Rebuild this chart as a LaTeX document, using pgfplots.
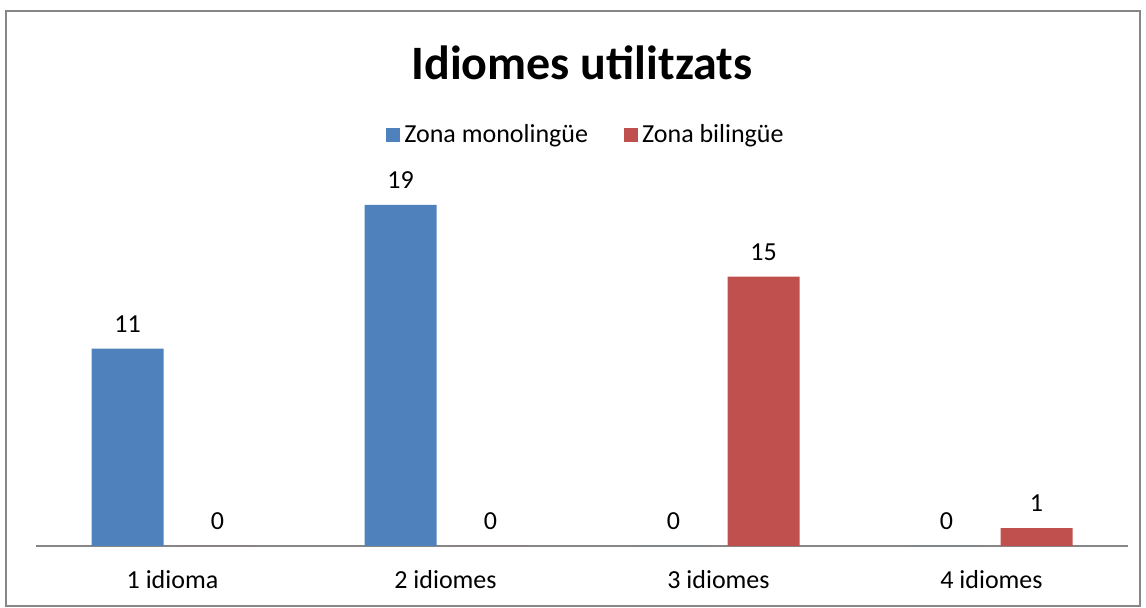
\documentclass[border=0pt]{standalone}
\usepackage{pgfplots}
\pgfplotsset{compat=1.18}
\usepackage{fontspec}
\setmainfont{Carlito}
\definecolor{blu}{HTML}{4F81BD}
\definecolor{rd}{HTML}{C0504D}
\definecolor{gr}{HTML}{868686}
\begin{document}
\begin{tikzpicture}
\useasboundingbox (0,0) rectangle (573pt,304pt);
\draw[gr, line width=1pt] (3pt,1pt) rectangle (570pt,298.5pt);
\begin{axis}[
    at={(18pt,31pt)}, anchor=south west,
    scale only axis,
    width=546pt, height=179.5pt,
    ybar=9pt, bar width=36pt,
    xmin=-0.5, xmax=3.5,
    ymin=0, ymax=20,
    axis x line*=bottom,
    axis y line=none,
    x axis line style={gr, line width=1pt, -},
    xtick=data,
    xticklabels={1 idioma, 2 idiomes, 3 idiomes, 4 idiomes},
    major tick length=0pt,
    xticklabel style={font=\fontsize{13}{15}\selectfont, yshift=-8.5pt},
    nodes near coords,
    every node near coord/.append style={font=\fontsize{13}{15}\selectfont, text=black, yshift=4.5pt},
    /pgf/number format/assume math mode=true,
    title={\textbf{Idiomes utilitzats}},
    title style={font=\fontsize{24}{28}\selectfont, at={(rel axis cs:0.5,1.312)}, anchor=center},
    legend style={draw=none, at={(rel axis cs:0.5046,1.144)}, anchor=center,
        font=\fontsize{13}{15}\selectfont, /tikz/every even column/.append style={column sep=16pt}},
    legend columns=2,
    legend image code/.code={\fill[#1] (0pt,-3.5pt) rectangle (7pt,3.5pt);},
]
\addplot[fill=blu, draw=none] coordinates {(0,11) (1,19) (2,0) (3,0)};
\addplot[fill=rd, draw=none] coordinates {(0,0) (1,0) (2,15) (3,1)};
\legend{Zona monolingüe, Zona bilingüe}
\end{axis}
\end{tikzpicture}
\end{document}
